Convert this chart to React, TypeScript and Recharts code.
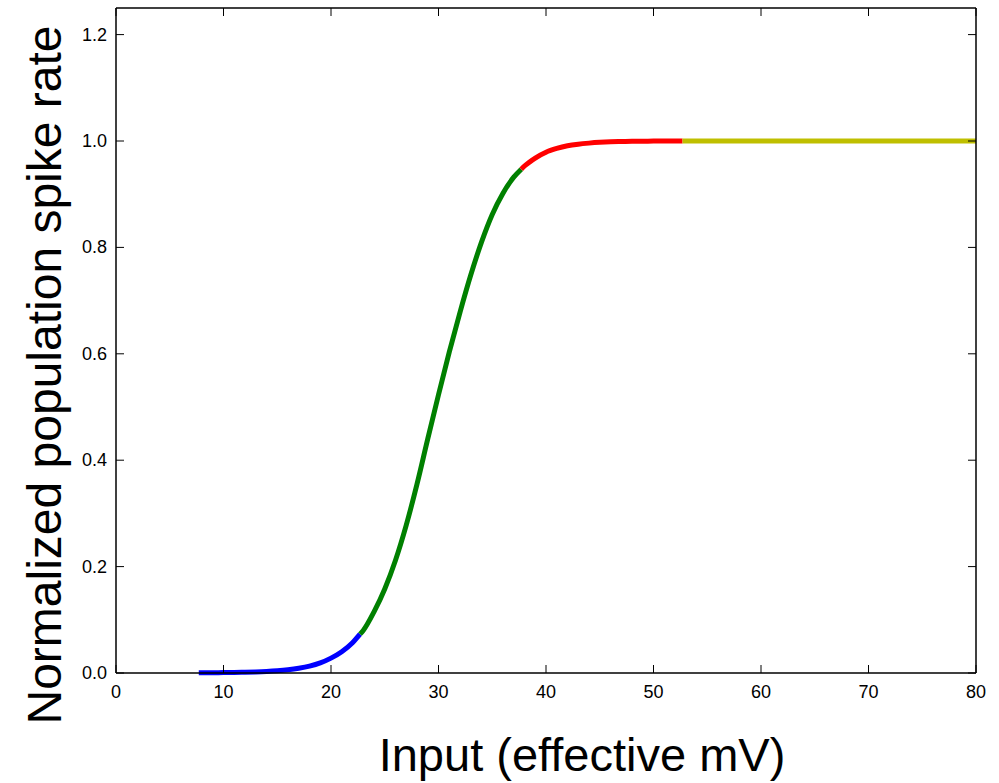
import { LineChart, Line, XAxis, YAxis } from "recharts"

// input (effective mV)
const inputs = [
  7.7, 8, 9, 10, 11, 12, 13, 14, 15, 16, 17, 18, 19, 20, 21, 22, 22.7,
  23, 24, 25, 26, 27, 28, 29, 30, 31, 32, 33, 34, 35, 36, 37, 37.7,
  38, 39, 40, 41, 42, 43, 44, 45, 46, 47, 48, 49, 50, 51, 52, 52.7,
  53, 55, 60, 65, 70, 75, 80,
]

// normalized population spike rate at each input
const rates = [
  0.0004, 0.0004, 0.0006, 0.0008, 0.0011, 0.0015, 0.0021, 0.003, 0.0043, 0.0062, 0.009, 0.013, 0.019, 0.028, 0.04, 0.057, 0.073,
  0.08, 0.115, 0.158, 0.212, 0.278, 0.355, 0.44, 0.523, 0.603, 0.678, 0.748, 0.81, 0.862, 0.902, 0.932, 0.947,
  0.953, 0.968, 0.979, 0.986, 0.991, 0.994, 0.996, 0.9975, 0.9985, 0.999, 0.9994, 0.9996, 0.9998, 0.9999, 1.0, 1.0,
  1.0, 1.0, 1.0, 1.0, 1.0, 1.0, 1.0,
]

// where each coloured piece of the curve begins / ends
const segmentBounds = [7.7, 22.7, 37.7, 52.7, 80]
const segmentColors = ["#0000ff", "#008000", "#ff0000", "#bfbf00"]

const xTicks = [0, 10, 20, 30, 40, 50, 60, 70, 80]
const yTicks = [0, 0.2, 0.4, 0.6, 0.8, 1.0, 1.2]

const font = "'Liberation Sans', Arial, sans-serif"

const rows = inputs.map((x, i) => {
  const row: Record<string, number | null> = { x, all: rates[i] }
  segmentColors.forEach((_, k) => {
    row[`s${k}`] = x >= segmentBounds[k] && x <= segmentBounds[k + 1] ? rates[i] : null
  })
  return row
})

const BottomTick = (props: any) => {
  const { x, y, payload } = props
  return (
    <g>
      <line x1={x} x2={x} y1={y} y2={y - 8} stroke="#000" strokeWidth={1} />
      <text x={x} y={y + 25} textAnchor="middle" fontSize={18} fontFamily={font} fill="#000">
        {payload.value}
      </text>
    </g>
  )
}

const TopTick = (props: any) => {
  const { x, y } = props
  return <line x1={x} x2={x} y1={y} y2={y + 8} stroke="#000" strokeWidth={1} />
}

const LeftTick = (props: any) => {
  const { x, y, payload } = props
  return (
    <g>
      <line x1={x} x2={x + 8} y1={y} y2={y} stroke="#000" strokeWidth={1} />
      <text x={x - 9} y={y + 6} textAnchor="end" fontSize={18} fontFamily={font} fill="#000">
        {Number(payload.value).toFixed(1)}
      </text>
    </g>
  )
}

const RightTick = (props: any) => {
  const { x, y } = props
  return <line x1={x} x2={x - 8} y1={y} y2={y} stroke="#000" strokeWidth={1} />
}

export default function App() {
  return (
    <div style={{ position: "absolute", top: 0, left: 0, background: "#fff" }}>
      <LineChart width={999} height={783} data={rows} margin={{ top: 7, right: 22, bottom: 70, left: 56 }}>
        <XAxis
          dataKey="x"
          type="number"
          domain={[0, 80]}
          ticks={xTicks}
          height={40}
          tickSize={0}
          tickMargin={0}
          tickLine={false}
          tick={<BottomTick />}
          axisLine={{ stroke: "#000", strokeWidth: 1.5 }}
          label={{
            content: () => (
              <text x={582} y={771} textAnchor="middle" fontSize={47} fontFamily={font} fill="#000">
                Input (effective mV)
              </text>
            ),
          }}
        />
        <XAxis
          xAxisId="top"
          orientation="top"
          dataKey="x"
          type="number"
          domain={[0, 80]}
          ticks={xTicks}
          height={1}
          tickSize={0}
          tickMargin={0}
          tickLine={false}
          tick={<TopTick />}
          axisLine={{ stroke: "#000", strokeWidth: 1.5 }}
        />
        <YAxis
          type="number"
          domain={[0, 1.25]}
          ticks={yTicks}
          width={60}
          tickSize={0}
          tickMargin={0}
          tickLine={false}
          tick={<LeftTick />}
          axisLine={{ stroke: "#000", strokeWidth: 1.5 }}
          label={{
            content: () => (
              <text
                x={61}
                y={375}
                transform="rotate(-90 61 375)"
                textAnchor="middle"
                fontSize={48}
                fontFamily={font}
                fill="#000"
              >
                Normalized population spike rate
              </text>
            ),
          }}
        />
        <YAxis
          yAxisId="right"
          orientation="right"
          type="number"
          domain={[0, 1.25]}
          ticks={yTicks}
          width={1}
          tickSize={0}
          tickMargin={0}
          tickLine={false}
          tick={<RightTick />}
          axisLine={{ stroke: "#000", strokeWidth: 1.5 }}
        />
        {/* invisible series so the top and right frame axes get drawn */}
        <Line
          xAxisId="top"
          yAxisId="right"
          dataKey="all"
          stroke="none"
          dot={false}
          activeDot={false}
          isAnimationActive={false}
        />
        {segmentColors.map((c, k) => (
          <Line
            key={k}
            dataKey={`s${k}`}
            type="monotone"
            stroke={c}
            strokeWidth={5}
            dot={false}
            activeDot={false}
            isAnimationActive={false}
          />
        ))}
      </LineChart>
    </div>
  )
}
